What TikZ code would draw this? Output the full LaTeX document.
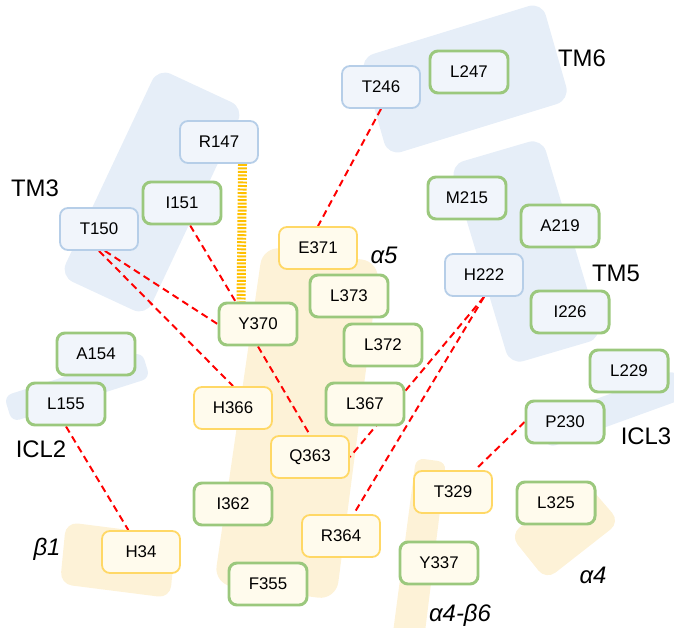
\documentclass[tikz,border=0pt]{standalone}
\usepackage{fontspec}
\setmainfont{Liberation Sans}
\usetikzlibrary{arrows.meta, positioning, calc}
\definecolor{tmblue}{RGB}{230, 238, 248}
\definecolor{gayellow}{RGB}{253, 242, 215}
\definecolor{polarline}{RGB}{182, 206, 232}
\definecolor{polarbg}{RGB}{241, 245, 251}
\definecolor{chargeline}{RGB}{255, 216, 102}
\definecolor{chargebg}{RGB}{255, 251, 237}
\definecolor{hydroline}{RGB}{155, 200, 125}
\definecolor{hbond}{RGB}{255, 0, 0}
\definecolor{saltbridge}{RGB}{255, 192, 0}
\pgfdeclarelayer{helix}
\pgfdeclarelayer{contact}
\pgfsetlayers{helix,contact,main}

\begin{document}
\begin{tikzpicture}[
    x=0.025cm, y=-0.025cm,
    res/.style={rectangle, rounded corners=0.2cm, minimum width=1.95cm,
                minimum height=1.05cm, inner sep=0pt,
                font=\fontsize{12}{14}\selectfont},
    polar/.style={res, fill=polarbg, draw=polarline, line width=1.3pt},
    charged/.style={res, fill=chargebg, draw=chargeline, line width=1.3pt},
    hydrotm/.style={res, fill=polarbg, draw=hydroline, line width=2.1pt},
    hydroga/.style={res, fill=chargebg, draw=hydroline, line width=2.1pt},
    seg/.style={font=\fontsize{17}{20}\selectfont, inner sep=0pt},
    contact/.style={hbond, line width=1.4pt, dash pattern=on 5pt off 3.2pt},
    bridge/.style={saltbridge, line width=6.4pt, dash pattern=on 1.4pt off 1.1pt},
]
\useasboundingbox (0, 0) rectangle (674, 628);
\clip (0, 0) rectangle (674, 628);

% -- Helices and loops (background) --
\begin{pgfonlayer}{helix}
\fill[tmblue, rounded corners=0.35cm]
    (158, 68) -- (244, 108) -- (146, 316) -- (60, 276) -- cycle;
\fill[tmblue, rounded corners=0.35cm]
    (360, 58) -- (542, 2) -- (570, 100) -- (388, 156) -- cycle;
\fill[tmblue, rounded corners=0.35cm]
    (450, 165) -- (542, 138) -- (602, 338) -- (510, 365) -- cycle;
\fill[tmblue, rounded corners=0.2cm]
    (4, 396) -- (142, 352) -- (150, 378) -- (12, 422) -- cycle;
\fill[tmblue, rounded corners=0.2cm]
    (538, 420) -- (676, 370) -- (686, 398) -- (548, 448) -- cycle;
\fill[gayellow, rounded corners=0.45cm]
    (263, 246) -- (380, 262) -- (336, 600) -- (214, 584) -- cycle;
\fill[gayellow, rounded corners=0.2cm]
    (416, 458) -- (446, 462) -- (424, 640) -- (392, 640) -- cycle;
\fill[gayellow, rounded corners=0.3cm]
    (510, 535) -- (582, 478) -- (620, 522) -- (546, 580) -- cycle;
\fill[gayellow, rounded corners=0.3cm]
    (66, 522) -- (176, 536) -- (170, 598) -- (60, 584) -- cycle;
\end{pgfonlayer}

% -- Residues --
\node[polar] (R147) at (219, 142) {R147};
\node[hydrotm] (I151) at (182, 203) {I151};
\node[polar] (T150) at (99, 229) {T150};
\node[polar] (T246) at (381, 87) {T246};
\node[hydrotm] (L247) at (469, 72) {L247};
\node[hydrotm] (M215) at (467, 198) {M215};
\node[hydrotm] (A219) at (560, 226) {A219};
\node[polar] (H222) at (484, 275) {H222};
\node[hydrotm] (I226) at (570, 312) {I226};
\node[hydrotm] (A154) at (96, 354) {A154};
\node[hydrotm] (L155) at (66, 404) {L155};
\node[hydrotm] (L229) at (629, 371) {L229};
\node[hydrotm] (P230) at (565, 422) {P230};
\node[charged] (E371) at (318, 248) {E371};
\node[hydroga] (L373) at (349, 296) {L373};
\node[hydroga] (Y370) at (258, 324) {Y370};
\node[hydroga] (L372) at (383, 345) {L372};
\node[hydroga] (L367) at (365, 404) {L367};
\node[charged] (H366) at (233, 408) {H366};
\node[charged] (Q363) at (310, 457) {Q363};
\node[hydroga] (I362) at (233, 504) {I362};
\node[charged] (R364) at (341, 536) {R364};
\node[hydroga] (F355) at (268, 584) {F355};
\node[charged] (H34) at (141, 552) {H34};
\node[charged] (T329) at (453, 492) {T329};
\node[hydroga] (L325) at (556, 503) {L325};
\node[hydroga] (Y337) at (439, 563) {Y337};

% -- Contacts (under the boxes) --
\begin{pgfonlayer}{contact}
\draw[bridge] (R147.-43) -- (Y370.127);
\draw[contact] (T246.south) -- (E371.north);
\draw[contact] (T150.-75) -- (Y370.west);
\draw[contact] (T150.south) -- (H366.north);
\draw[contact] (I151.-70) -- (Y370.135);
\draw[contact] (Y370.south) -- (Q363.north);
\draw[contact] (H222.south) -- (Q363.east);
\draw[contact] (H222.south) -- (R364.60);
\draw[contact] (L155.south) -- (H34.120);
\draw[contact] (P230.west) -- (T329.45);
\end{pgfonlayer}

% -- Segment labels --
\node[seg] (tm3) at (35, 188) {TM3};
\node[seg] (tm6) at (582, 58) {TM6};
\node[seg] (tm5) at (616, 273) {TM5};
\node[seg] (icl2) at (41, 449) {ICL2};
\node[seg] (icl3) at (646, 436) {ICL3};
\node[seg] (a5) at (384, 255) {\itshape α5};
\node[seg] (b1) at (47, 549) {\itshape β1};
\node[seg] (a4) at (593, 575) {\itshape α4};
\node[seg] (a4b6) at (460, 615) {\itshape α4-β6};

\end{tikzpicture}
\end{document}
